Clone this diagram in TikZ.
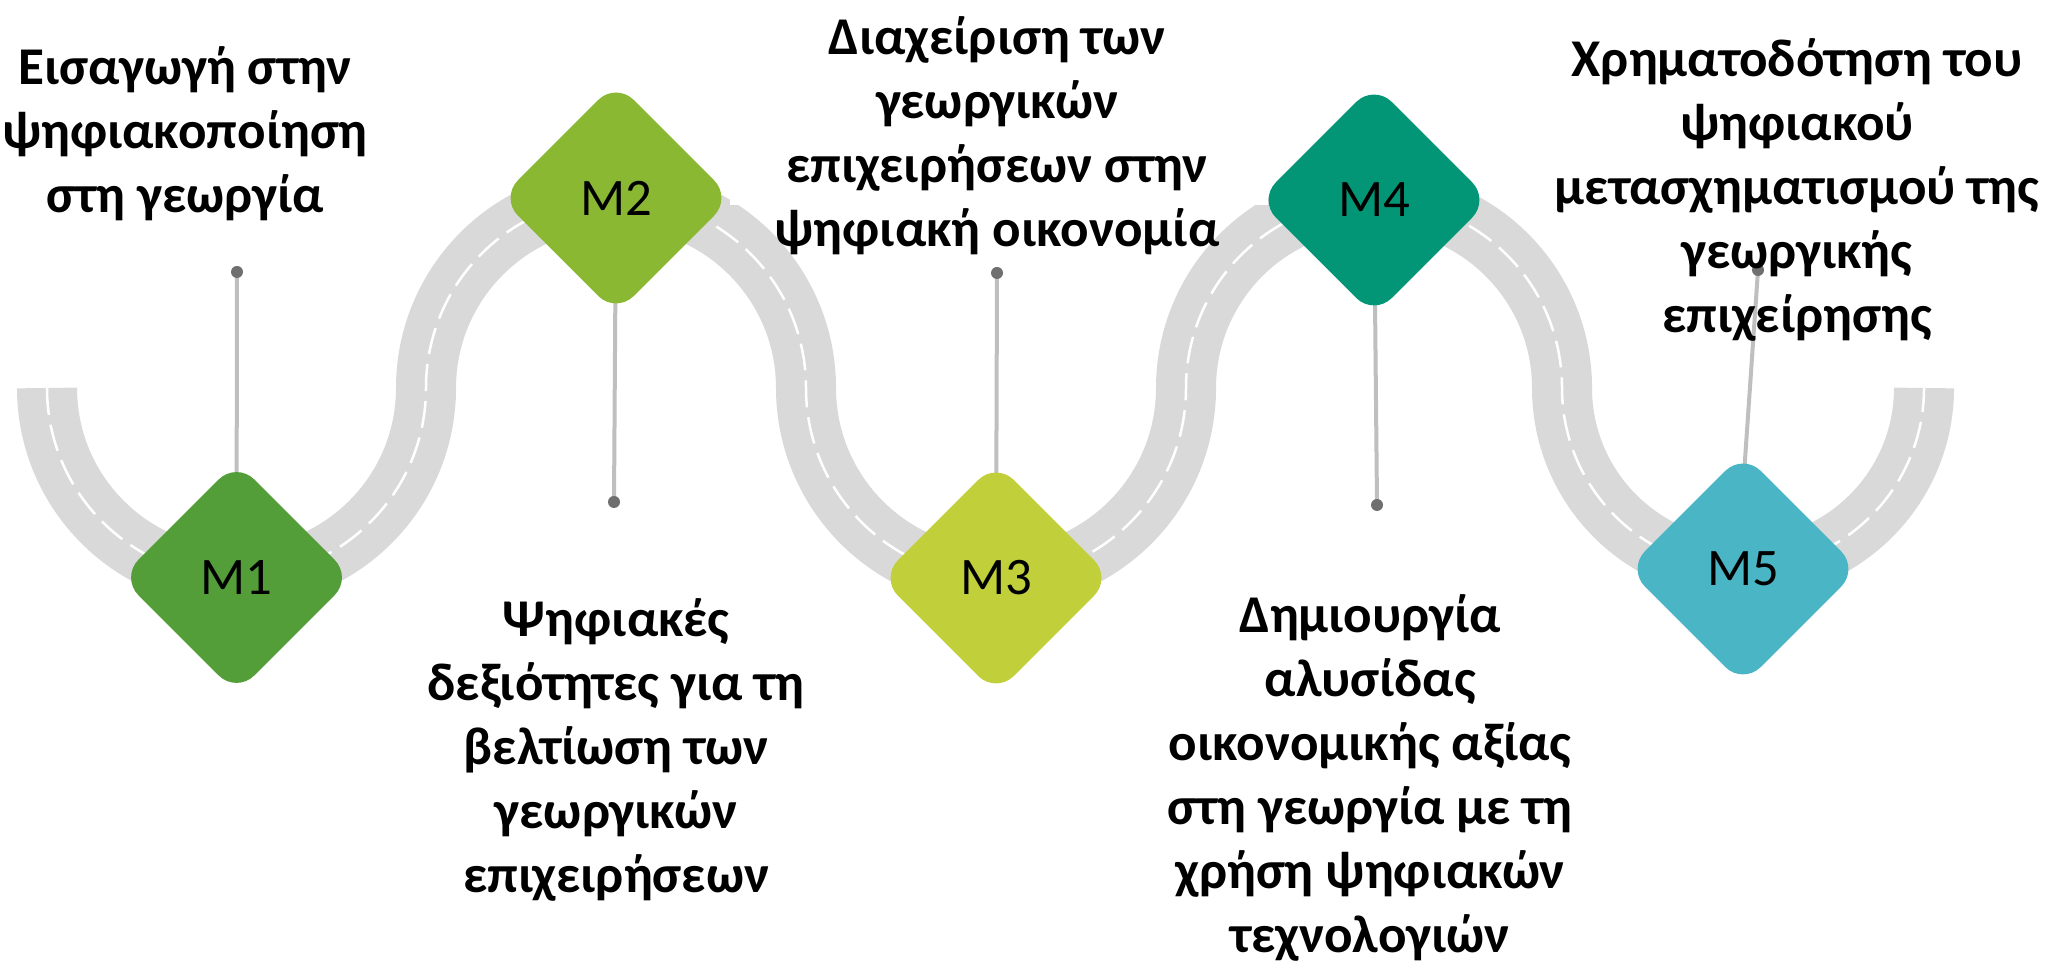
\documentclass[tikz,border=0pt]{standalone}
\usepackage{fontspec}
\setmainfont{Carlito}
\usetikzlibrary{shapes.geometric}

\definecolor{roadgray}{HTML}{D9D9D9}
\definecolor{pingray}{HTML}{BFBFBF}
\definecolor{dotgray}{HTML}{6F6F6F}
\definecolor{mA}{HTML}{549E39}
\definecolor{mB}{HTML}{8AB833}
\definecolor{mC}{HTML}{C0CF3A}
\definecolor{mD}{HTML}{029676}
\definecolor{mE}{HTML}{4AB5C4}

\tikzset{
	road/.style={draw=roadgray, line width=0.6cm},
	lane/.style={draw=white, line width=0.025cm, dash pattern=on 0.27cm off 0.1cm},
	mstone/.style={shape=diamond, minimum width=2.32cm, minimum height=2.32cm, inner sep=0pt, rounded corners=0.25cm, font=\fontsize{15pt}{18pt}\selectfont},
	pinline/.style={draw=pingray, line width=0.04cm},
	pindot/.style={fill=dotgray},
	topic/.style={align=center, anchor=base, inner sep=0pt, font=\bfseries\fontsize{15.1pt}{18.2pt}\selectfont},
}

\begin{document}
\begin{tikzpicture}[x=0.01cm, y=0.01cm]
		\useasboundingbox (0, 0) rectangle (2049, 968);
		% Road:
		\draw[road] (47, 580) arc (180:360:189.5) arc (180:0:190) arc (180:360:190) arc (180:0:188) arc (180:360:181);
		\draw[lane] (47, 580) arc (180:360:189.5) arc (180:0:190) arc (180:360:190) arc (180:0:188) arc (180:360:181);
		\fill[white] (730, 763) rectangle (1268, 968);
		% Milestones and pins:
		\coordinate (c1) at (236.5, 390.5);
		\coordinate (c2) at (616, 770);
		\coordinate (c3) at (996, 390);
		\coordinate (c4) at (1374, 768);
		\coordinate (c5) at (1743, 399);
		\coordinate (p1) at (237, 696);
		\coordinate (p2) at (614, 466);
		\coordinate (p3) at (997, 695);
		\coordinate (p4) at (1377, 463);
		\coordinate (p5) at (1758, 698);
		\draw[pinline] (c1) -- (p1);
		\draw[pinline] (c2) -- (p2);
		\draw[pinline] (c3) -- (p3);
		\draw[pinline] (c4) -- (p4);
		\draw[pinline] (1741, 450) -- (p5);
		\foreach \p in {p1, p2, p3, p4, p5}
			\fill[pindot] (\p) circle (6);
		\node[mstone, fill=mA] (m1) at (c1) {M1};
		\node[mstone, fill=mB] (m2) at (c2) {M2};
		\node[mstone, fill=mC] (m3) at (c3) {M3};
		\node[mstone, fill=mD] (m4) at (c4) {M4};
		\node[mstone, fill=mE] (m5) at (c5) {M5};
		% Topics (placed by the baseline of their last line):
		\node[topic] (t1) at (185, 755) {Εισαγωγή στην\\ψηφιακοποίηση\\στη γεωργία};
		\node[topic] (t2) at (616, 75) {Ψηφιακές\\δεξιότητες για τη\\βελτίωση των\\γεωργικών\\επιχειρήσεων};
		\node[topic] (t3) at (997, 721) {Διαχείριση των\\γεωργικών\\επιχειρήσεων στην\\ψηφιακή οικονομία};
		\node[topic] (t4) at (1370, 15) {Δημιουργία\\αλυσίδας\\οικονομικής αξίας\\στη γεωργία με τη\\χρήση ψηφιακών\\τεχνολογιών};
		\node[topic] (t5) at (1797, 635) {Χρηματοδότηση του\\ψηφιακού\\μετασχηματισμού της\\γεωργικής\\επιχείρησης};
	\end{tikzpicture}
\end{document}
